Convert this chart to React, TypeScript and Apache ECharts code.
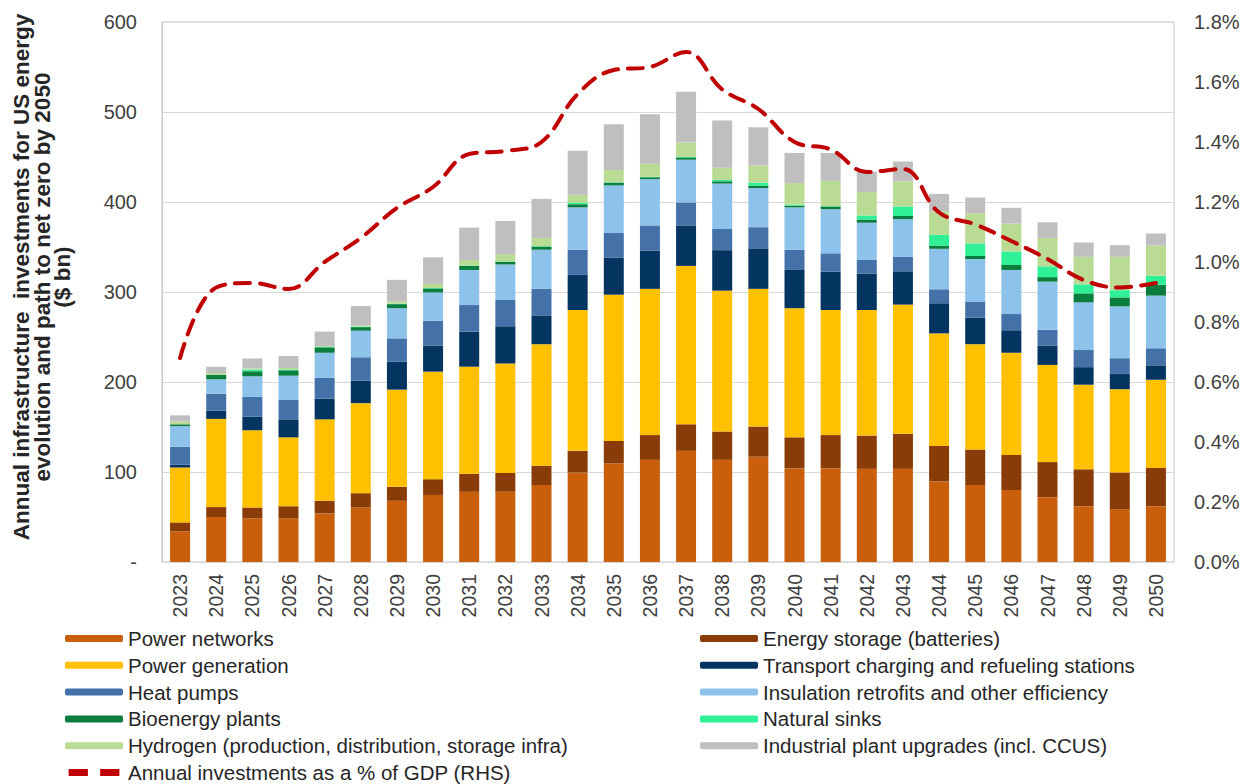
import React, { useEffect, useRef } from "react";
import * as echarts from "echarts";

const years = [
  "2023", "2024", "2025", "2026", "2027", "2028", "2029", "2030", "2031", "2032",
  "2033", "2034", "2035", "2036", "2037", "2038", "2039", "2040", "2041", "2042",
  "2043", "2044", "2045", "2046", "2047", "2048", "2049", "2050",
];

const powerNetworks = [34, 50, 48.5, 48.5, 54, 60.5, 68, 74.5, 78, 78, 85.5, 99.5, 109.5, 113.5, 123.5, 113.5, 117, 104, 104, 103.5, 103.5, 89.5, 85.5, 80, 72, 62, 58.5, 62];
const energyStorage = [10, 11, 12, 13.5, 14, 16, 15.5, 17.5, 20, 21, 21.5, 24, 25, 27.5, 29.5, 31.5, 33.5, 34.5, 37, 37, 39, 39.5, 39.5, 39, 39, 41, 41, 42.5];
const powerGeneration = [61, 98, 86, 76.5, 90.5, 100, 108, 119.5, 119, 121.5, 135, 156.5, 162.5, 162.5, 176, 156.5, 153, 143.5, 139, 139.5, 143.5, 125, 117, 113.5, 108, 94, 92.5, 98];
const transport = [3, 9, 15, 20, 23, 25, 31, 29, 39, 41.5, 32, 39, 41, 42.5, 45, 45, 45, 42.5, 42.5, 40.5, 37, 33.5, 29.5, 25, 21.5, 19.5, 17, 16];
const heatPumps = [20, 19, 22, 21.5, 23, 26, 26, 27.5, 29.5, 29, 29.5, 28, 27.5, 28, 25.5, 23.5, 23.5, 22.5, 20.5, 15.5, 16, 15.5, 18, 18, 17.5, 19, 17.5, 19];
const insulation = [23, 16, 23, 27, 28, 29.5, 33.5, 31.5, 39, 39.5, 43.5, 47, 53, 51.5, 47.5, 50.5, 43.5, 47, 49, 41, 42, 45, 47, 49, 53.5, 53, 57.5, 58.5];
const bioenergy = [2, 5, 5.5, 6, 6, 4, 4.5, 4.5, 4.5, 3, 3.5, 3.5, 3, 2, 2.5, 2.5, 2.5, 2, 3, 3.5, 3.5, 3.5, 3.5, 5.5, 5, 10, 10, 12];
const naturalSinks = [0, 0, 2, 1, 0.5, 0.5, 0.5, 0.5, 0.5, 0.5, 0.5, 1.5, 0.5, 0.5, 0.5, 1.5, 3.5, 1, 0.5, 4.5, 10.5, 12, 14, 15, 12, 10, 8, 10];
const hydrogen = [3, 2, 1, 1.5, 1, 1.5, 2.5, 4.5, 6, 8, 9, 9, 13.5, 14.5, 16, 13.5, 19, 24, 28, 26, 28, 26, 33.5, 31, 31.5, 30.5, 37, 33.5];
const industrial = [7, 7, 11, 13.5, 16, 21.5, 24, 29.5, 36, 37, 43.5, 49, 51, 55, 56.5, 52.5, 42.5, 33.5, 31, 22.5, 22, 19.5, 17.5, 17.5, 17.5, 16, 13, 13.5];
const gdpShare = [0.68, 0.915, 0.93, 0.91, 1.0, 1.08, 1.18, 1.25, 1.36, 1.37, 1.4, 1.56, 1.64, 1.65, 1.7, 1.575, 1.51, 1.4, 1.375, 1.3, 1.31, 1.165, 1.125, 1.07, 1.01, 0.94, 0.915, 0.93];

const stackSeries = [
  { name: "Power networks", data: powerNetworks, color: "#C95F0B" },
  { name: "Energy storage (batteries)", data: energyStorage, color: "#8A3C08" },
  { name: "Power generation", data: powerGeneration, color: "#FFC000" },
  { name: "Transport charging and refueling stations", data: transport, color: "#043460" },
  { name: "Heat pumps", data: heatPumps, color: "#4471A8" },
  { name: "Insulation retrofits and other efficiency", data: insulation, color: "#8DC2EA" },
  { name: "Bioenergy plants", data: bioenergy, color: "#0A7D3F" },
  { name: "Natural sinks", data: naturalSinks, color: "#2FF096" },
  { name: "Hydrogen (production, distribution, storage infra)", data: hydrogen, color: "#B9DB93" },
  { name: "Industrial plant upgrades (incl. CCUS)", data: industrial, color: "#BFBFBF" },
];

const lineName = "Annual investments as a % of GDP (RHS)";

const leftLegend = [
  "Power networks",
  "Power generation",
  "Heat pumps",
  "Bioenergy plants",
  "Hydrogen (production, distribution, storage infra)",
];
const rightLegend = [
  "Energy storage (batteries)",
  "Transport charging and refueling stations",
  "Insulation retrofits and other efficiency",
  "Natural sinks",
  "Industrial plant upgrades (incl. CCUS)",
];

export default function App() {
  const ref = useRef<HTMLDivElement>(null);

  useEffect(() => {
    if (!ref.current) return;
    const chart = echarts.init(ref.current, null, { renderer: "svg" });
    const font = "Liberation Sans, Arial, sans-serif";
    const legendCommon = {
      orient: "vertical" as const,
      itemWidth: 58,
      itemHeight: 7,
      itemGap: 5.8,
      padding: 0,
      height: 170,
      textStyle: { fontFamily: font, fontSize: 20.5, color: "#262626", lineHeight: 18 },
      selectedMode: false,
    };
    chart.setOption({
      animation: false,
      backgroundColor: "#ffffff",
      textStyle: { fontFamily: font },
      grid: {
        left: 162,
        right: 70,
        top: 22,
        bottom: 222,
        show: true,
        borderColor: "#c8c8c8",
        borderWidth: 1,
        backgroundColor: "transparent",
      },
      legend: [
        {
          ...legendCommon,
          left: 65,
          top: 628,
          data: [
            ...leftLegend,
            {
              name: lineName,
              icon: "path://M0,0H11V4H0Z M18,0H29V4H18Z",
              itemStyle: { color: "#C00000", borderWidth: 0 },
            },
          ],
        },
        { ...legendCommon, left: 700, top: 628, data: rightLegend },
      ],
      xAxis: {
        type: "category",
        data: years,
        boundaryGap: true,
        axisLine: { show: true, lineStyle: { color: "#d9d9d9" } },
        axisTick: { show: false },
        axisLabel: {
          rotate: 90,
          fontSize: 19.5,
          color: "#404040",
          margin: 12,
          fontFamily: font,
        },
      },
      yAxis: [
        {
          type: "value",
          min: 0,
          max: 600,
          interval: 100,
          axisLine: { show: true, lineStyle: { color: "#c8c8c8" } },
          axisTick: { show: false },
          splitLine: { show: true, lineStyle: { color: "#d9d9d9", width: 1 } },
          axisLabel: {
            fontSize: 20,
            color: "#404040",
            margin: 25,
            fontFamily: font,
            formatter: (v: number) => (v === 0 ? "-" : String(v)),
          },
        },
        {
          type: "value",
          min: 0,
          max: 1.8,
          interval: 0.2,
          position: "right",
          axisLine: { show: false },
          axisTick: { show: false },
          splitLine: { show: false },
          axisLabel: {
            fontSize: 20,
            color: "#404040",
            margin: 20,
            fontFamily: font,
            formatter: (v: number) => v.toFixed(1) + "%",
          },
        },
      ],
      graphic: [
        {
          type: "text",
          x: 42,
          y: 277,
          rotation: Math.PI / 2,
          style: {
            text:
              "Annual infrastructure  investments for US energy\nevolution and path to net zero by 2050\n($ bn)",
            fontFamily: font,
            fontSize: 22.5,
            fontWeight: "bold",
            fill: "#262626",
            align: "center",
            verticalAlign: "middle",
            lineHeight: 20.5,
          },
        },
      ],
      series: [
        ...stackSeries.map((s) => ({
          name: s.name,
          type: "bar",
          stack: "total",
          data: s.data,
          barWidth: 20,
          itemStyle: { color: s.color },
          emphasis: { disabled: true },
        })),
        {
          name: lineName,
          type: "line",
          yAxisIndex: 1,
          data: gdpShare,
          smooth: 0.4,
          symbol: "none",
          z: 10,
          itemStyle: { color: "#C00000" },
          lineStyle: { color: "#C00000", width: 4, type: [15, 10], cap: "round" },
          emphasis: { disabled: true },
        },
      ],
    });
    return () => chart.dispose();
  }, []);

  return (
    <div
      ref={ref}
      style={{ position: "fixed", left: 0, top: 0, width: 1244, height: 784 }}
    />
  );
}
